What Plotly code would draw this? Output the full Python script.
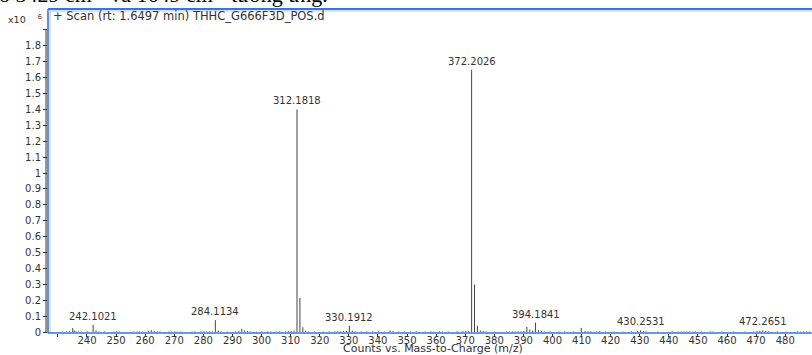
import plotly.graph_objects as go

# ---- data (intensity in units of 10^6 counts) ----
mz = [231.5, 233.0, 234.1, 235.1, 235.6, 236.2, 237.0, 238.1,
      240.1, 242.1021, 243.1, 244.1, 246.0,
      249.2, 250.2, 251.1, 256.1, 257.2, 258.1, 259.2,
      261.1, 262.1, 263.1, 264.2, 265.1, 268.2, 269.1,
      270.2, 271.2, 272.2, 276.1, 277.1, 279.2,
      280.2, 281.1, 282.2, 283.1, 284.1134, 285.1, 286.1, 288.2,
      291.1, 292.2, 293.2, 294.2, 295.2, 296.1, 298.2,
      300.1, 302.2, 303.2, 305.1, 306.2, 308.2, 309.2, 310.2, 311.2,
      312.1818, 313.185, 314.19, 315.2, 316.2,
      318.2, 321.2, 323.2, 325.2, 326.2, 327.2, 328.2, 329.2, 330.1912,
      331.2, 332.2, 334.2, 336.2, 338.2, 340.2, 342.2, 344.2, 345.2, 347.2, 349.2,
      351.2, 353.2, 356.2, 358.2, 359.2, 361.2, 362.2, 364.2, 367.2, 369.2,
      370.2, 371.2, 372.2026, 373.206, 374.21, 375.2, 376.2, 377.2,
      380.2, 384.2, 385.2, 386.2, 387.2, 388.2, 389.2, 390.2, 391.2, 392.2,
      393.2, 394.1841, 395.2, 396.2, 397.2, 399.2, 402.2, 404.2, 407.2,
      409.9, 411.2, 412.2, 413.2, 415.2, 416.2, 418.2, 421.2, 424.2, 427.2,
      429.2, 430.2531, 431.3, 432.2,
      436.2, 441.2, 443.2, 444.2, 445.2, 446.2, 447.2, 448.2, 449.2, 451.3,
      454.2, 455.2, 458.2, 462.2, 466.2, 469.2, 470.3, 471.3, 472.2651,
      473.3, 474.3, 477.3, 480.3, 484.3, 485.3, 486.3, 487.3, 488.3]
intensity = [0.003, 0.004, 0.006, 0.025, 0.010, 0.005, 0.004, 0.003,
             0.004, 0.045, 0.010, 0.004, 0.003,
             0.003, 0.004, 0.003, 0.004, 0.003, 0.004, 0.003,
             0.008, 0.012, 0.006, 0.004, 0.004, 0.003, 0.003,
             0.004, 0.003, 0.003, 0.003, 0.004, 0.004,
             0.004, 0.004, 0.005, 0.004, 0.075, 0.010, 0.004, 0.003,
             0.004, 0.006, 0.020, 0.010, 0.006, 0.004, 0.003,
             0.004, 0.004, 0.003, 0.003, 0.004, 0.004, 0.006, 0.008, 0.009,
             1.400, 0.215, 0.030, 0.008, 0.004,
             0.003, 0.003, 0.004, 0.004, 0.005, 0.004, 0.006, 0.007, 0.040,
             0.008, 0.004, 0.003, 0.004, 0.004, 0.004, 0.003, 0.010, 0.006, 0.003, 0.004,
             0.003, 0.004, 0.003, 0.004, 0.003, 0.004, 0.003, 0.003, 0.004, 0.006,
             0.007, 0.008, 1.650, 0.300, 0.040, 0.010, 0.006, 0.004,
             0.003, 0.004, 0.003, 0.004, 0.004, 0.005, 0.004, 0.006, 0.032, 0.015,
             0.010, 0.060, 0.012, 0.006, 0.004, 0.004, 0.003, 0.004, 0.003,
             0.026, 0.006, 0.005, 0.004, 0.004, 0.005, 0.004, 0.003, 0.003, 0.004,
             0.006, 0.010, 0.006, 0.004,
             0.003, 0.004, 0.003, 0.003, 0.004, 0.003, 0.004, 0.003, 0.004, 0.003,
             0.004, 0.003, 0.003, 0.003, 0.003, 0.004, 0.006, 0.008, 0.010,
             0.007, 0.004, 0.003, 0.003, 0.004, 0.003, 0.004, 0.003, 0.003]
labeled_mz = [242.1021, 284.1134, 312.1818, 330.1912, 372.2026, 394.1841, 430.2531, 472.2651]

x_ticks = list(range(230, 490, 10))
x_ticktext = [""] + [str(v) for v in x_ticks[1:]]
y_ticks = [round(i * 0.1, 1) for i in range(20)]
y_ticktext = [("%g" % v) for v in y_ticks[:-1]] + [""]

title_text = "+ Scan (rt: 1.6497 min) THHC_G666F3D_POS.d"
x_title = "Counts vs. Mass-to-Charge (m/z)"
doc_text = "ó 3429 cm<sup>-1</sup> và 1649 cm<sup>-1</sup> tương ứng."

# ---- build stick spectrum ----
sx, sy = [], []
for m, h in zip(mz, intensity):
    sx += [m, m, None]
    sy += [0, h, None]

W, H = 812, 355
ML, MR, MT, MB = 48, 0, 9, 22
FONT = "DejaVu Sans"
TXT = "#333333"
XRANGE = [226.6, 489.2]

fig = go.Figure()
fig.add_trace(go.Scatter(x=sx, y=sy, mode="lines",
                         line=dict(color="#444444", width=1),
                         hoverinfo="skip", showlegend=False))
# invisible helper trace so the label axis (x2) is drawn
fig.add_trace(go.Scatter(x=[mz[0]], y=[0], xaxis="x2", yaxis="y", mode="markers",
                         marker=dict(opacity=0), hoverinfo="skip", showlegend=False))

ann = []
for m in labeled_mz:
    h = intensity[mz.index(m)]
    ann.append(dict(x=m, y=h, xref="x", yref="y", text="%.4f" % m,
                    showarrow=False, xanchor="center", yanchor="bottom",
                    yshift=1, font=dict(family=FONT, size=10, color=TXT)))

pw = W - ML - MR
ph = H - MT - MB
ann.append(dict(x=(51 - ML) / pw, y=(H - MB - 16) / ph, xref="paper", yref="paper",
                text=title_text, showarrow=False, xanchor="left", yanchor="middle",
                font=dict(family=FONT, size=11.5, color=TXT)))
ann.append(dict(x=(6 - ML) / pw, y=(H - MB - 19) / ph, xref="paper", yref="paper",
                text="x10\u00a0\u00a0\u00a0\u00a0<sup>6</sup>", showarrow=False, xanchor="left",
                yanchor="middle", font=dict(family=FONT, size=9.5, color=TXT)))
ann.append(dict(x=(433 - ML) / pw, y=(H - MB - 348.5) / ph, xref="paper", yref="paper",
                text=x_title, showarrow=False, xanchor="center", yanchor="middle",
                borderpad=0,
                font=dict(family=FONT, size=11, color=TXT)))
ann.append(dict(x=(-3 - ML) / pw, y=(H - MB - 9) / ph, xref="paper", yref="paper",
                text=doc_text, showarrow=False, xanchor="left", yanchor="bottom",
                font=dict(family="Liberation Serif", size=22, color="#000000")))

BLUE = "#3a74d4"
LIGHT = "#a9c4ee"
shapes = [
    dict(type="line", xref="paper", yref="y", x0=-2 / pw, x1=-2 / pw, y0=-0.006, y1=1.9,
         line=dict(color="#333333", width=1)),
    dict(type="line", xref="paper", yref="paper", x0=0, x1=0, y0=0, y1=1,
         line=dict(color=BLUE, width=1.6)),
    dict(type="line", xref="paper", yref="paper", x0=2 / pw, x1=2 / pw, y0=0, y1=1,
         line=dict(color=LIGHT, width=1)),
    dict(type="line", xref="paper", yref="paper", x0=0, x1=1, y0=1, y1=1,
         line=dict(color=BLUE, width=1.8)),
    dict(type="line", xref="paper", yref="paper", x0=0, x1=1, y0=1 - 2 / ph, y1=1 - 2 / ph,
         line=dict(color=LIGHT, width=1)),
    dict(type="line", xref="paper", yref="paper", x0=0, x1=1, y0=0, y1=0,
         line=dict(color=BLUE, width=1.6)),
]

fig.update_layout(
    width=W, height=H,
    margin=dict(l=ML, r=MR, t=MT, b=MB),
    paper_bgcolor="white", plot_bgcolor="white",
    annotations=ann, shapes=shapes,
    showlegend=False,
    xaxis=dict(range=XRANGE, tickmode="array", tickvals=x_ticks,
               ticktext=[""] * len(x_ticks), ticks="outside", ticklen=3, tickwidth=1,
               tickcolor="#333333", showgrid=False, zeroline=False, showline=False),
    xaxis2=dict(range=XRANGE, overlaying="x", anchor="y", side="bottom",
                tickmode="array", tickvals=x_ticks, ticktext=x_ticktext, ticks="",
                showgrid=False, zeroline=False, showline=False,
                tickfont=dict(family=FONT, size=10, color=TXT)),
    yaxis=dict(range=[-0.006, 2.032], tickmode="array", tickvals=y_ticks,
               ticktext=y_ticktext, ticks="outside", ticklen=4, tickwidth=1,
               tickcolor="#333333", showgrid=False, zeroline=False, showline=False,
               tickfont=dict(family=FONT, size=10, color=TXT)),
)

fig.write_html("out.html")
